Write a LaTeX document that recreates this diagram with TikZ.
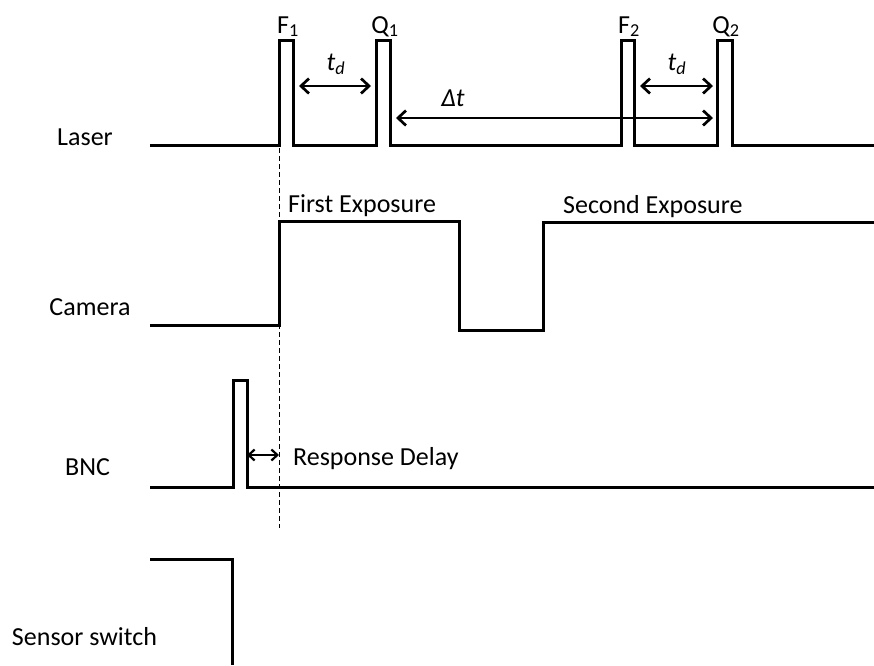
\documentclass[tikz,border=0pt]{standalone}
\usepackage{fontspec}
\setmainfont{Carlito}
\usetikzlibrary{arrows.meta}

\begin{document}
\begin{tikzpicture}[
  x=1pt, y=-1pt,
  signal/.style={line width=3pt, line join=miter},
  lbl/.style={font=\fontsize{26}{31}\selectfont, inner sep=0pt, anchor=base},
  txt/.style={lbl, anchor=base west},
  arr/.style={{Straight Barb[length=8pt,width=15pt]}-{Straight Barb[length=8pt,width=15pt]},
              line width=2.7pt},
  smallarr/.style={{Straight Barb[length=6pt,width=11pt]}-{Straight Barb[length=6pt,width=11pt]},
                   line width=2.2pt},
  guide/.style={line width=1pt, dash pattern=on 5pt off 3pt}
]
  \useasboundingbox (0,0) rectangle (874,665);

  % signal names
  \node[lbl] (laser) at (85,145) {Laser};
  \node[lbl] (camera) at (90,315) {Camera};
  \node[lbl] (bnc) at (87.5,475) {BNC};
  \node[lbl] (sensor) at (84.5,645) {Sensor switch};

  % laser pulses
  \draw[signal] (150,145) -| (279,40) -| (293,145) -| (376,40) -| (390,145)
    -| (621,40) -| (634,145) -| (717,40) -| (732,145) -- (874,145);
  \node[lbl] (f1) at (288,33) {F\textsubscript{1}};
  \node[lbl] (q1) at (385,33) {Q\textsubscript{1}};
  \node[lbl] (f2) at (629,33) {F\textsubscript{2}};
  \node[lbl] (q2) at (726,33) {Q\textsubscript{2}};

  \coordinate (f1r) at (293,86);
  \coordinate (q1l) at (376,86);
  \coordinate (f2r) at (634,86);
  \coordinate (q2l) at (717,86);
  \coordinate (q1r) at (390,118);
  \coordinate (q2m) at (717,118);

  \draw[arr, shorten <=6pt, shorten >=5pt] (f1r) -- (q1l);
  \draw[arr, shorten <=6pt, shorten >=4pt] (f2r) -- (q2l);
  \draw[arr, shorten <=6pt, shorten >=4pt] (q1r) -- (q2m);
  \node[lbl] (td1) at (336,70) {\textit{t}\textsubscript{\textit{d}}};
  \node[lbl] (td2) at (677,70) {\textit{t}\textsubscript{\textit{d}}};
  \node[lbl] (dt) at (453,106) {\textit{Δt}};

  % camera exposures
  \draw[signal] (150,325) -| (279,221) -| (459,330) -| (543,222) -- (874,222);
  \node[txt] (first) at (288,212) {First Exposure};
  \node[txt] (second) at (563,213) {Second Exposure};

  % BNC trigger
  \draw[signal] (150,487) -| (233,380) -| (247,487) -- (874,487);
  \coordinate (bncr) at (247,455);
  \coordinate (trig) at (279,455);
  \draw[smallarr] (bncr) -- (trig);
  \node[txt] (delay) at (293,465) {Response Delay};

  % trigger guide
  \coordinate (guidetop) at (279,148);
  \coordinate (guidebot) at (279,528);
  \draw[guide] (guidetop) -- (guidebot);

  % sensor switch
  \draw[signal] (150,559) -| (232,665);
\end{tikzpicture}
\end{document}
